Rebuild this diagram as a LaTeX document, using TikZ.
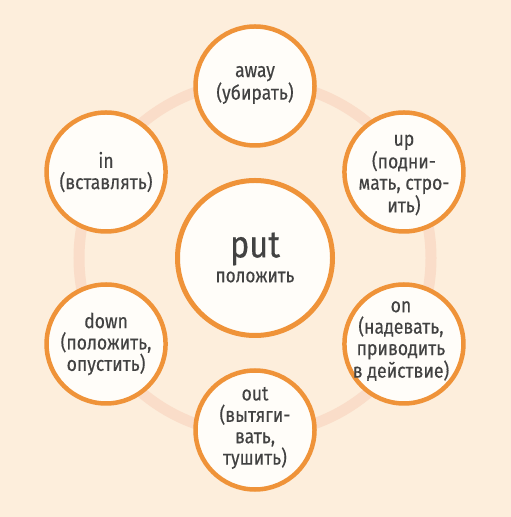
\documentclass[tikz,border=0pt]{standalone}
\usepackage{fontspec}
\setmainfont{Fira Sans}[FakeStretch=0.86, FakeBold=0.35]
\definecolor{bgpeach}{HTML}{FDEEDC}
\definecolor{ringpeach}{HTML}{FADDC9}
\definecolor{rimorange}{HTML}{EF9339}
\definecolor{inkgray}{HTML}{424242}
\definecolor{discwhite}{HTML}{FFFDF9}
\tikzset{
  disc/.style={circle, draw=rimorange, line width=4.5bp, fill=discwhite, minimum size=119bp, inner sep=0pt},
  bigdisc/.style={disc, line width=5bp, minimum size=155bp},
  word/.style={align=center, text=inkgray, inner sep=0pt, font=\fontsize{20.5}{21.5}\selectfont}
}
\begin{document}
\begin{tikzpicture}[x=1bp,y=1bp]
\fill[bgpeach] (0,0) rectangle (511,517);
\useasboundingbox (0,0) rectangle (511,517);
% ring behind the discs
\coordinate (hub) at (255,259);
\draw[ringpeach, line width=11bp] (hub) circle[radius=176bp];
% centre
\node[bigdisc] (put) at (hub) {};
\node[word] (put-word) at ([yshift=9bp]put.center) {\fontsize{38}{38}\selectfont put};
\node[word, font=\fontsize{20}{22}\selectfont] (put-ru) at ([yshift=-19bp]put.center) {положить};
% outer discs
\begin{scope}[shift={(hub)}]
\node[disc] (away) at (90:172) {};
\node[disc] (up) at (30:172) {};
\node[disc] (on) at (-30:172) {};
\node[disc] (out) at (-90:172) {};
\node[disc] (down) at (210:172) {};
\node[disc] (inn) at (150:172) {};
\end{scope}
\node[word] (away-text) at ([yshift=1bp]away.center) {away\\(убирать)};
\node[word] (up-text) at ([yshift=-3bp]up.center) {up\\(подни-\\мать, стро-\\ить)};
\node[word] (on-text) at ([xshift=-3bp,yshift=3bp]on.center) {on\\(надевать,\\приводить\\в действие)};
\node[word] (out-text) at ([yshift=2bp]out.center) {out\\(вытяги-\\вать,\\тушить)};
\node[word] (down-text) at (down.center) {down\\(положить,\\опустить)};
\node[word] (inn-text) at (inn.center) {in\\(вставлять)};
\end{tikzpicture}
\end{document}
